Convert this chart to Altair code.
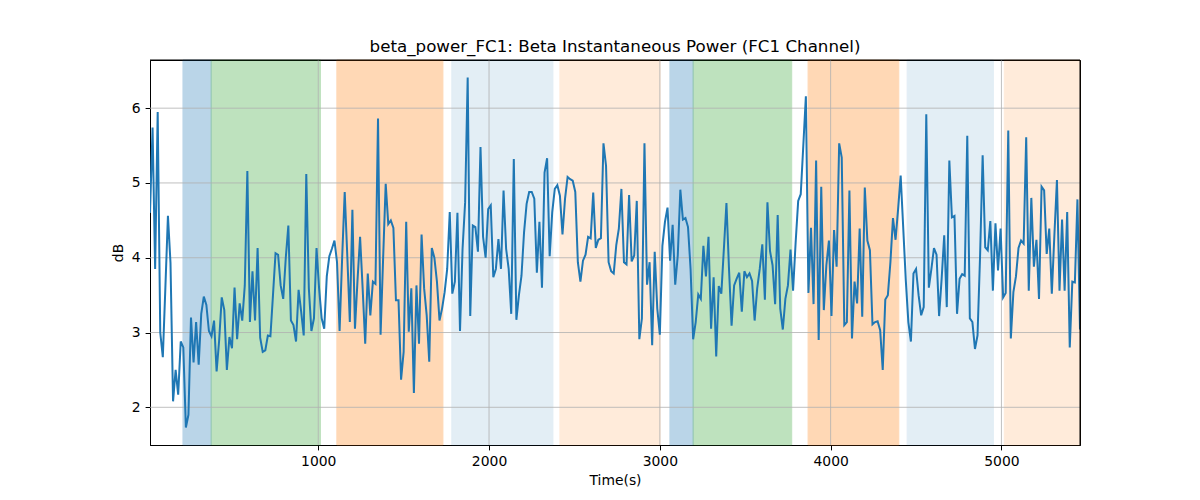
import altair as alt
import pandas as pd

# ---- data ----
time_start = 15
time_step = 15
power_db = [
    4.6, 5.74, 3.85, 5.95, 3.0, 2.67, 3.6, 4.56, 3.93, 2.08,
    2.5, 2.17, 2.88, 2.8, 1.73, 1.9, 3.2, 2.6, 3.14, 2.57,
    3.25, 3.48, 3.37, 3.02, 2.95, 3.16, 2.48, 2.9, 3.47, 3.3,
    2.5, 2.94, 2.79, 3.6, 2.91, 3.39, 3.16, 3.63, 5.16, 3.14,
    3.82, 3.16, 4.13, 2.93, 2.74, 2.76, 2.96, 2.95, 3.5, 4.06,
    4.04, 3.63, 3.45, 4.0, 4.43, 3.16, 3.1, 2.88, 3.57, 3.28,
    2.96, 5.12, 3.59, 3.02, 3.19, 4.13, 3.59, 3.19, 3.05, 3.75,
    4.02, 4.12, 4.23, 3.94, 3.02, 4.0, 4.88, 4.03, 3.14, 4.64,
    3.05, 3.7, 4.28, 3.59, 2.85, 3.79, 3.23, 3.68, 3.65, 5.86,
    2.97, 4.0, 4.99, 4.45, 4.5, 4.4, 3.43, 3.43, 2.37, 2.74,
    4.48, 3.01, 3.59, 2.19, 3.63, 2.85, 4.31, 3.59, 3.23, 2.61,
    4.13, 4.0, 3.68, 3.16, 3.32, 3.54, 3.85, 4.61, 3.52, 3.68,
    4.6, 3.02, 4.12, 4.74, 6.41, 3.22, 4.43, 4.41, 4.08, 5.48,
    4.28, 4.0, 4.65, 4.7, 3.74, 3.85, 4.25, 3.85, 4.9, 4.12,
    3.85, 3.25, 5.32, 3.17, 3.5, 3.76, 4.34, 4.72, 4.88, 4.88,
    4.79, 3.8, 4.48, 3.6, 5.14, 5.33, 4.02, 4.61, 4.92, 4.97,
    4.83, 4.31, 4.79, 5.08, 5.05, 5.03, 4.88, 3.94, 3.68, 3.96,
    4.04, 4.28, 4.26, 4.87, 4.13, 4.24, 4.26, 5.53, 5.23, 3.94,
    3.82, 3.79, 4.17, 4.39, 4.92, 3.94, 3.91, 4.84, 3.95, 4.03,
    4.76, 2.91, 3.19, 5.53, 3.64, 3.94, 2.83, 4.08, 3.32, 2.97,
    4.16, 4.48, 4.67, 3.96, 4.44, 3.64, 4.03, 4.91, 4.51, 4.53,
    4.41, 3.85, 2.91, 3.14, 3.51, 3.45, 4.16, 3.75, 4.28, 3.05,
    3.74, 2.68, 3.62, 3.52, 4.12, 4.73, 3.85, 3.09, 3.63, 3.72,
    3.8, 3.28, 3.82, 3.74, 3.79, 3.69, 3.16, 3.59, 3.85, 4.18,
    3.44, 4.74, 4.09, 3.9, 3.38, 4.57, 3.32, 3.04, 3.45, 3.63,
    4.11, 3.56, 4.2, 4.76, 4.85, 5.5, 6.16, 3.53, 4.4, 3.38,
    5.3, 2.9, 4.95, 3.3, 3.9, 4.23, 3.22, 4.37, 3.88, 5.53,
    5.34, 3.1, 3.14, 4.9, 2.92, 3.68, 3.39, 4.39, 3.21, 4.94,
    4.23, 4.1, 3.11, 3.14, 3.15, 3.03, 2.5, 3.44, 3.5, 3.94,
    4.53, 4.24, 4.65, 5.1, 4.4, 3.7, 3.14, 2.88, 3.79, 3.85,
    3.5, 3.23, 3.34, 5.92, 3.6, 3.85, 4.13, 4.04, 3.22, 3.72,
    4.3, 3.34, 5.3, 4.54, 4.56, 3.25, 3.72, 3.78, 3.76, 5.63,
    3.19, 3.14, 2.78, 2.96, 4.03, 5.37, 4.14, 4.1, 4.49, 3.56,
    4.46, 3.83, 4.39, 3.47, 3.53, 5.7, 2.92, 3.54, 3.75, 4.13,
    4.23, 4.19, 5.61, 3.56, 4.8, 3.88, 4.24, 3.45, 4.95, 4.9,
    4.05, 4.39, 3.52, 4.3, 5.04, 3.56, 4.51, 3.56, 4.61, 2.8,
    3.68, 3.67, 4.78, 3.04,
]

span_start = [208, 373, 1109, 1782, 2415, 3059, 3195, 3868, 4448, 5017]
span_end = [373, 1013, 1730, 2374, 3002, 3195, 3772, 4399, 4953, 5460]
span_kind = ["blue", "green", "orange", "lightblue", "lightorange",
             "blue", "green", "orange", "lightblue", "lightorange"]
kind_names = ["blue", "green", "orange", "lightblue", "lightorange"]
kind_colors = ["#1f77b4", "#2ca02c", "#ff7f0e", "#1f77b4", "#ff7f0e"]
kind_alpha = {"blue": 0.3, "green": 0.3, "orange": 0.3, "lightblue": 0.12, "lightorange": 0.15}

x_ticks = [1000, 2000, 3000, 4000, 5000]
y_ticks = [2, 3, 4, 5, 6]

title_text = "beta_power_FC1: Beta Instantaneous Power (FC1 Channel)"

# ---- tables ----
times = [time_start + i * time_step for i in range(len(power_db))]
line_df = pd.DataFrame({"t": times, "db": power_db})
span_df = pd.DataFrame({"start": span_start, "end": span_end, "kind": span_kind,
                        "alpha": [kind_alpha[k] for k in span_kind]})
gx_df = pd.DataFrame({"gx": x_ticks})
gy_df = pd.DataFrame({"gy": y_ticks})

ymin, ymax = min(power_db), max(power_db)
yr = ymax - ymin
x_dom = [times[0], times[-1]]
y_dom = [ymin - 0.05 * yr, ymax + 0.05 * yr]

frame_right_df = pd.DataFrame({"fx": [x_dom[1]]})
frame_top_df = pd.DataFrame({"fy": [y_dom[1]]})

FONT = "DejaVu Sans"
xscale = alt.Scale(domain=x_dom, nice=False, zero=False)
yscale = alt.Scale(domain=y_dom, nice=False, zero=False)

ax_common = dict(grid=False, domainColor="black", tickColor="black", tickSize=4.9,
                 labelFont=FONT, labelFontSize=13.9, labelColor="black", labelPadding=4.9,
                 titleFont=FONT, titleFontSize=13.9, titleFontWeight="normal", titleColor="black",
                 domainWidth=1, tickWidth=1)

xaxis = alt.Axis(values=x_ticks, title="Time(s)", titlePadding=5, format="d", **ax_common)
yaxis = alt.Axis(values=y_ticks, title="dB", titlePadding=6, format="d", **ax_common)

color_scale = alt.Scale(domain=kind_names, range=kind_colors)

spans = alt.Chart(span_df).mark_rect(strokeWidth=1).encode(
    x=alt.X("start:Q", scale=xscale, axis=xaxis),
    x2="end:Q",
    fill=alt.Fill("kind:N", scale=color_scale, legend=None),
    stroke=alt.Stroke("kind:N", scale=color_scale, legend=None),
    opacity=alt.Opacity("alpha:Q", scale=None),
)

grid_x = alt.Chart(gx_df).mark_rule(color="#b0b0b0", strokeWidth=0.8).encode(
    x=alt.X("gx:Q", scale=xscale, axis=xaxis)
)
grid_y = alt.Chart(gy_df).mark_rule(color="#b0b0b0", strokeWidth=0.8).encode(
    y=alt.Y("gy:Q", scale=yscale, axis=yaxis)
)

line = alt.Chart(line_df).mark_line(color="#1f77b4", strokeWidth=2, clip=True).encode(
    x=alt.X("t:Q", scale=xscale, axis=xaxis),
    y=alt.Y("db:Q", scale=yscale, axis=yaxis),
)

frame_right = alt.Chart(frame_right_df).mark_rule(color="black", strokeWidth=1).encode(
    x=alt.X("fx:Q", scale=xscale, axis=xaxis)
)
frame_top = alt.Chart(frame_top_df).mark_rule(color="black", strokeWidth=1).encode(
    y=alt.Y("fy:Q", scale=yscale, axis=yaxis)
)

chart = alt.layer(spans, grid_x, grid_y, line, frame_right, frame_top).properties(
    width=930,
    height=385,
    background="white",
    title=alt.TitleParams(text=title_text, font=FONT, fontSize=16.7, fontWeight="normal",
                          color="black", offset=4, anchor="middle"),
    autosize=alt.AutoSizeParams(type="none"),
    padding={"left": 142, "top": 52, "right": 112, "bottom": 47},
).configure_view(stroke="black", strokeWidth=1)

chart.save("out.html", embed_options={"renderer": "svg", "actions": False})
